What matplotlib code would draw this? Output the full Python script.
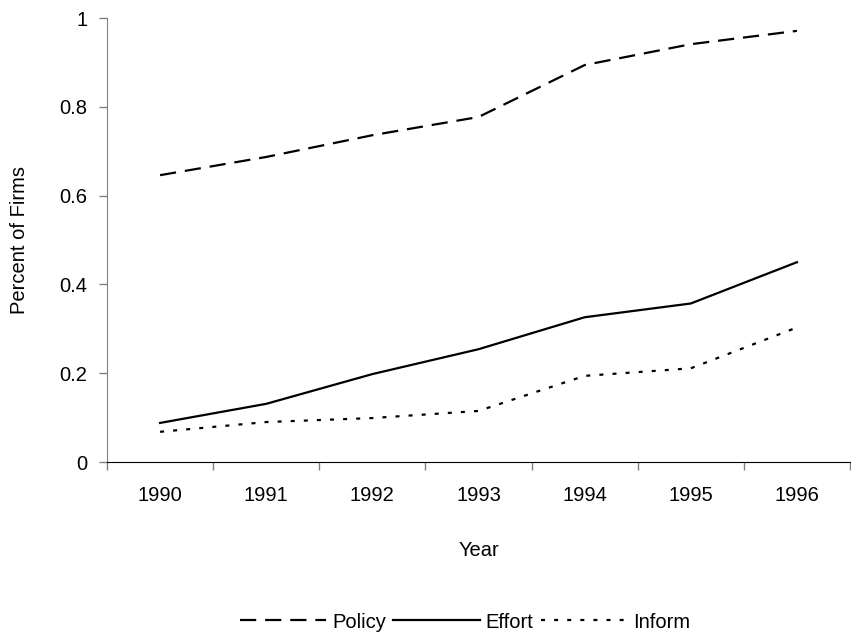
import matplotlib
matplotlib.use("Agg")
import matplotlib.pyplot as plt
import numpy as np
from matplotlib.ticker import FixedLocator, NullFormatter

years = ["1990", "1991", "1992", "1993", "1994", "1995", "1996"]
policy = [0.646, 0.687, 0.736, 0.777, 0.894, 0.941, 0.971]
effort = [0.088, 0.131, 0.198, 0.254, 0.326, 0.357, 0.450]
inform = [0.068, 0.090, 0.099, 0.115, 0.194, 0.211, 0.303]
yticks = [0, 0.2, 0.4, 0.6, 0.8, 1.0]
yticklabels = ["0", "0.2", "0.4", "0.6", "0.8", "1"]

plt.rcParams['font.family'] = ['Liberation Sans', 'DejaVu Sans']
FS = 14.5

fig = plt.figure(figsize=(8.51, 6.39), dpi=100)
ax = fig.add_axes([107/851, (639-462)/639, (850-107)/851, (462-18)/639])

x = np.arange(len(years))
ax.plot(x, policy, color='black', lw=1.6, linestyle=(0, (7.3, 4)), label='Policy')
ax.plot(x, effort, color='black', lw=1.6, linestyle='-', label='Effort')
ax.plot(x, inform, color='black', lw=1.6, linestyle=(0, (1.8, 4.1)), label='Inform')

ax.set_xlim(-0.5, len(years) - 0.5)
ax.set_ylim(0, 1)
ax.set_xticks(x)
ax.set_xticklabels(years, fontsize=FS)
ax.tick_params(axis='x', which='major', length=0, pad=17)
ax.xaxis.set_minor_locator(FixedLocator(np.arange(-0.5, len(years), 1.0)))
ax.xaxis.set_minor_formatter(NullFormatter())
ax.tick_params(axis='x', which='minor', length=6, width=1, color='#808080')
ax.set_yticks(yticks)
ax.set_yticklabels(yticklabels, fontsize=FS)
ax.tick_params(axis='y', length=6, width=1, color='#808080', pad=8)

for s in ['top', 'right']:
    ax.spines[s].set_visible(False)
ax.spines['left'].set_color('#808080')
ax.spines['bottom'].set_color('black')

ax.set_xlabel('Year', fontsize=FS, labelpad=26)
ax.set_ylabel('Percent of Firms', fontsize=FS, labelpad=22)

fig.legend(loc='center', bbox_to_anchor=(465/851, 1 - 622/639), ncol=3, frameon=False,
           fontsize=FS, handlelength=4.3, columnspacing=0.35, handletextpad=0.3)

fig.savefig('out.png', dpi=100)
